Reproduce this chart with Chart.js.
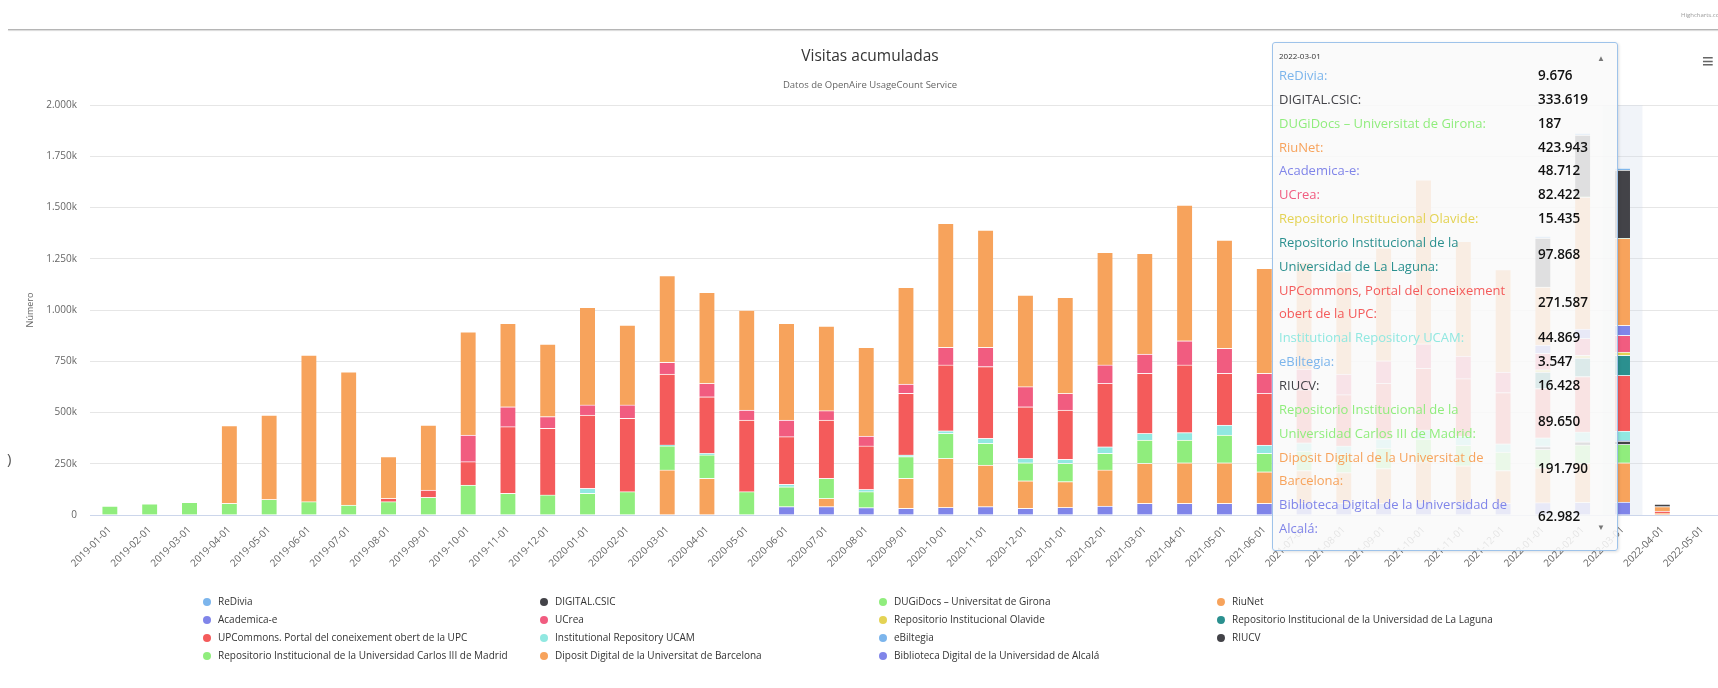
<!DOCTYPE html>
<html>
<head>
<meta charset="utf-8">
<script src="https://cdn.jsdelivr.net/npm/chart.js@4.4.1/dist/chart.umd.min.js"></script>
<style>
  html, body { margin:0; padding:0; background:#fff; overflow:hidden; width:1718px; height:688px; font-family:"Open Sans", sans-serif; }
  #wrap { position:absolute; left:0; top:0; width:1740px; height:688px; }
  #topline { position:absolute; left:8px; top:29px; width:1720px; height:1px; background:#b5b5b5; box-shadow:0 1px 1px #d5d5d5; }
  #credit { position:absolute; left:1681px; top:11px; font-size:6px; color:#9a9a9a; white-space:nowrap; }
  #menu { position:absolute; left:1702px; top:51px; font-size:20px; color:#666; line-height:20px; }
  #paren { position:absolute; left:7px; top:448px; font-size:15px; color:#555; }
  #title { position:absolute; left:0; width:1740px; top:44px; text-align:center; font-size:15.5px; color:#333; }
  #subtitle { position:absolute; left:0; width:1740px; top:78px; text-align:center; font-size:9.5px; color:#666; }
  #legend { position:absolute; left:203px; top:592px; width:1400px; }
  .li { position:absolute; font-size:10px; color:#333; white-space:nowrap; height:18px; line-height:18px; }
  .li i { display:inline-block; width:8px; height:8px; border-radius:50%; margin-right:7px; vertical-align:-0.5px; }
  #tip { position:absolute; left:1272px; top:42px; width:344px; height:507px; background:rgba(249,249,249,0.86);
         border:1px solid #9ec3ea; border-radius:3px; box-shadow:1px 1px 3px rgba(0,0,0,0.12); overflow:hidden; }
  #tiphead { position:absolute; left:6px; top:7px; font-size:8px; color:#333; }
  #tiptable { position:absolute; left:6px; top:21px; border-collapse:collapse; }
  #tiptable td { padding:0; font-size:13px; line-height:23.85px; vertical-align:middle; }
  #tiptable td.n { width:253px; padding-right:6px; }
  #tiptable td.v { font-weight:600; color:#111; font-size:13.5px; }
  #up, #down { position:absolute; left:324px; font-size:8px; color:#777; }
  #up { top:9px; } #down { top:478px; }
</style>
</head>
<body>
<div id="wrap">
  <canvas id="c" width="1740" height="688"></canvas>
</div>
<div id="topline"></div>
<div id="credit">Highcharts.com</div>
<div id="menu">≡</div>
<div id="paren">)</div>
<div id="title">Visitas acumuladas</div>
<div id="subtitle">Datos de OpenAire UsageCount Service</div>
<div id="legend"></div>
<div id="tip"><div id="tiphead"></div><table id="tiptable"></table><div id="up">▲</div><div id="down">▼</div></div>
<script>
// ---------- DATA ----------
const categories = ["2019-01-01","2019-02-01","2019-03-01","2019-04-01","2019-05-01","2019-06-01","2019-07-01","2019-08-01","2019-09-01","2019-10-01","2019-11-01","2019-12-01",
 "2020-01-01","2020-02-01","2020-03-01","2020-04-01","2020-05-01","2020-06-01","2020-07-01","2020-08-01","2020-09-01","2020-10-01","2020-11-01","2020-12-01",
 "2021-01-01","2021-02-01","2021-03-01","2021-04-01","2021-05-01","2021-06-01","2021-07-01","2021-08-01","2021-09-01","2021-10-01","2021-11-01","2021-12-01",
 "2022-01-01","2022-02-01","2022-03-01","2022-04-01","2022-05-01"];

const seriesNames = ["ReDivia","DIGITAL.CSIC","DUGiDocs – Universitat de Girona","RiuNet","Academica-e","UCrea","Repositorio Institucional Olavide",
 "Repositorio Institucional de la Universidad de La Laguna","UPCommons. Portal del coneixement obert de la UPC","Institutional Repository UCAM","eBiltegia","RIUCV",
 "Repositorio Institucional de la Universidad Carlos III de Madrid","Diposit Digital de la Universitat de Barcelona","Biblioteca Digital de la Universidad de Alcalá"];

const seriesColors = ["#7cb5ec","#434348","#90ed7d","#f7a35c","#8085e9","#f15c80","#e4d354","#2b908f","#f45b5b","#91e8e1","#7cb5ec","#434348","#90ed7d","#f7a35c","#8085e9"];

const N = null;
const reDivia = [N,N,N,N,N,N,N,N,N,N,N,N, N,N,N,N,N,N,N,N,N,N,N,N, N,N,N,N,N,N,N,N,N,N,N,N, 8000,9000,9676,N,N];
const digitalCsic = [N,N,N,N,N,N,N,N,N,N,N,N, N,N,N,N,N,N,N,N,N,N,N,N, N,N,N,N,N,N,N,N,N,N,N,N, 239000,302000,333619,12000,N];
const dugiDocs = [N,N,N,N,N,N,N,N,N,N,N,N, N,N,N,N,N,N,N,N,N,N,N,N, N,N,N,N,N,N,N,N,N,N,N,N, 150,170,187,N,N];
const riuNet = [N,N,N,379000,412000,715000,650000,204000,317000,504000,407000,354000,
 476000,390000,423000,444000,488000,472000,413000,433000,472000,605000,572000,447000,
 469000,549000,491000,662000,528000,512000,520000,500000,550000,800000,560000,500000,
 283000,645000,423943,22000,N];
const academicaE = [N,N,N,N,N,N,N,N,N,N,N,N, N,N,N,N,N,N,N,N,N,N,N,N, N,N,N,N,N,N,N,N,N,N,N,N, 40000,45000,48712,N,N];
const uCrea = [N,N,N,N,N,N,N,N,N,130000,97000,57000, 49000,65000,57000,65000,49000,81000,46000,48000,45000,86000,94000,98000,
 81000,90000,94000,118000,122000,98000,100000,100000,110000,120000,110000,100000, 80000,82000,82422,N,N];
const olavide = [N,N,N,N,N,N,N,N,N,N,N,N, N,N,N,N,N,N,N,N,N,N,N,N, N,N,N,N,N,N,N,N,N,N,N,N, 12000,14000,15435,N,N];
const laLaguna = [N,N,N,N,N,N,N,N,N,N,N,N, N,N,N,N,N,N,N,N,N,N,N,N, N,N,N,N,N,N,N,N,N,N,N,N, 80000,90000,97868,N,N];
const upCommons = [N,N,N,N,N,N,N,16000,36000,114000,325000,325000, 358000,358000,346000,276000,349000,232000,284000,212000,301000,321000,350000,252000,
 240000,309000,293000,330000,252000,252000,260000,250000,270000,300000,280000,250000, 240000,270000,271587,10000,N];
const ucam = [N,N,N,N,N,N,N,N,N,N,N,N, 24000,N,5000,8000,N,12000,N,11000,8000,13000,24000,21000,
 20000,32000,32000,36000,49000,40000,40000,40000,45000,45000,45000,40000, 40000,45000,44869,N,N];
const eBiltegia = [N,N,N,N,N,N,N,N,N,N,N,N, N,N,N,N,N,N,N,N,N,N,N,N, N,N,N,N,N,N,N,N,N,N,N,N, 3000,3400,3547,N,N];
const riucv = [N,N,N,N,N,N,N,N,N,N,N,N, N,N,N,N,N,N,N,N,N,N,N,N, N,N,N,N,N,N,N,N,N,N,N,N, 14000,15000,16428,N,N];
const carlosIII = [44000,54000,62000,57000,76000,65000,49000,65000,86000,146000,106000,98000,
 106000,114000,117000,114000,114000,97000,98000,78000,106000,122000,106000,88000,
 89000,81000,114000,111000,135000,90000,95000,90000,100000,110000,100000,90000, 90000,90000,89650,N,N];
const diposit = [N,N,N,N,N,N,N,N,N,N,N,N, N,N,220000,179000,N,N,40000,N,146000,239000,203000,134000,
 126000,176000,195000,198000,198000,154000,160000,150000,170000,200000,180000,160000, 170000,190000,191790,9000,N];
const alcala = [N,N,N,N,N,N,N,N,N,N,N,N, N,N,N,N,N,41000,41000,36000,33000,37000,41000,33000,
 37000,44000,57000,57000,57000,57000,57000,57000,57000,60000,60000,57000, 60000,62000,62982,N,N];

const seriesData = [reDivia,digitalCsic,dugiDocs,riuNet,academicaE,uCrea,olavide,laLaguna,upCommons,ucam,eBiltegia,riucv,carlosIII,diposit,alcala];
const yTicks = [0,250000,500000,750000,1000000,1250000,1500000,1750000,2000000];
const hoverIndex = 38;
const hoverLabel = "2022-03-01";

// ---------- HELPERS ----------
function fmt(n){ return String(Math.round(n)).replace(/\B(?=(\d{3})+(?!\d))/g,'.'); }
const FONT = '"Open Sans", sans-serif';

// Highcharts stacks the first series on top, so push reversed
const datasets = [];
for (let i = seriesNames.length - 1; i >= 0; i--) {
  datasets.push({
    label: seriesNames[i],
    data: seriesData[i],
    backgroundColor: seriesColors[i],
    borderColor: 'rgba(255,255,255,0.55)',
    borderWidth: {top:1, left:0, right:0, bottom:0},
    borderSkipped: false,
    barThickness: 15
  });
}

const hoverBand = {
  id: 'hoverBand',
  beforeDatasetsDraw(chart){
    const xs = chart.scales.x, area = chart.chartArea;
    const cw = xs.width / categories.length;
    const px = xs.getPixelForValue(hoverIndex);
    const c = chart.ctx; c.save();
    c.fillStyle = 'rgba(204,214,235,0.28)';
    c.fillRect(px - cw/2, area.top, cw, area.bottom - area.top);
    c.restore();
  }
};

new Chart(document.getElementById('c'), {
  type: 'bar',
  data: { labels: categories, datasets },
  plugins: [hoverBand],
  options: {
    responsive: false,
    animation: false,
    layout: { padding: { top: 105, right: 18, left: 0, bottom: 0 } },
    plugins: { legend: { display:false }, title: { display:false }, tooltip: { enabled:false } },
    scales: {
      x: {
        stacked: true,
        grid: { display:false, drawTicks:false },
        border: { color:'#ccd6eb', width:1 },
        ticks: { autoSkip:false, maxRotation:45, minRotation:45, padding:9, color:'#666', font:{ family:FONT, size:10 } },
        afterFit(s){ s.height = 173; }
      },
      y: {
        stacked: true,
        min: 0, max: 2000000,
        afterBuildTicks(s){ s.ticks = yTicks.map(v => ({ value:v })); },
        grid: { color:'#e6e6e6', drawTicks:false },
        border: { display:false },
        ticks: { padding:13, color:'#666', font:{ family:FONT, size:10 }, callback: v => v === 0 ? '0' : fmt(v/1000) + 'k' },
        title: { display:true, text:'Número', color:'#666', font:{ family:FONT, size:9 }, padding:{ top:25, bottom:0 } },
        afterFit(s){ s.width = 90; }
      }
    }
  }
});

// ---------- LEGEND (4 columns, row-wise) ----------
const legend = document.getElementById('legend');
const colX = [0, 337, 676, 1014];
seriesNames.forEach((name, i) => {
  const d = document.createElement('div');
  d.className = 'li';
  d.style.left = colX[i % 4] + 'px';
  d.style.top = (Math.floor(i / 4) * 18) + 'px';
  d.innerHTML = '<i style="background:' + seriesColors[i] + '"></i>' + name;
  legend.appendChild(d);
});

// ---------- TOOLTIP ----------
document.getElementById('tiphead').textContent = hoverLabel;
const tt = document.getElementById('tiptable');
seriesNames.forEach((name, i) => {
  const v = seriesData[i][hoverIndex];
  const tr = document.createElement('tr');
  tr.innerHTML = '<td class="n" style="color:' + seriesColors[i] + '">' + name.replace('UPCommons.', 'UPCommons,') + ':</td><td class="v">' + fmt(v) + '</td>';
  tt.appendChild(tr);
});
</script>
</body>
</html>
